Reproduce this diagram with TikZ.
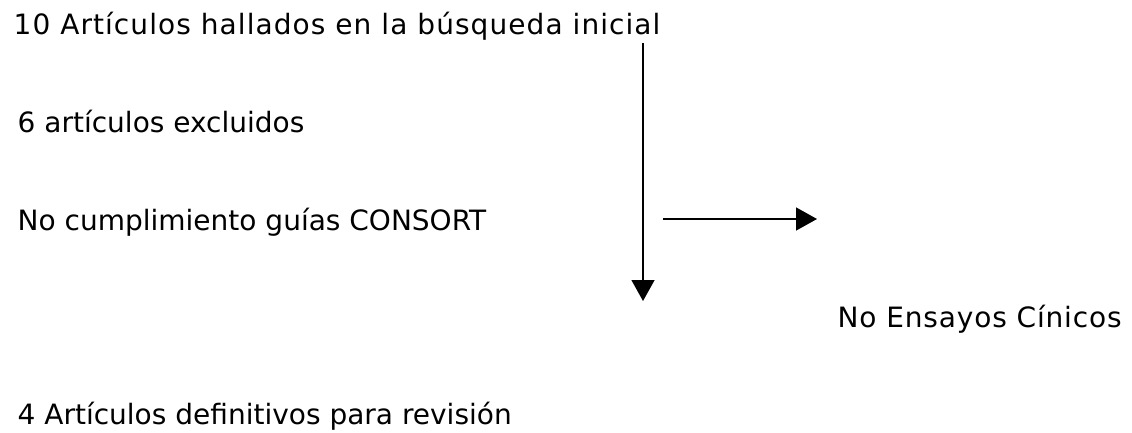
\documentclass[tikz,border=0pt]{standalone}
\usepackage{fontspec}
\setmainfont{DejaVu Sans}
\usetikzlibrary{arrows.meta}

\begin{document}
\begin{tikzpicture}[x=1pt,y=-1pt,
    every node/.style={anchor=base west, inner sep=0pt, font=\fontsize{28}{33}\selectfont},
    spaced/.style={font=\fontsize{28}{33}\selectfont\addfontfeatures{LetterSpace=#1}},
    >={Triangle[width=23pt,length=21pt]}, line width=1.4pt]
        \useasboundingbox (0,0) rectangle (1132,433);

        \node[spaced=3.8] (inicio) at (13,35) {10 Artículos hallados en la búsqueda inicial};
        \node (excl) at (17,132) {6 artículos excluidos};
        \node (consort) at (17,230) {No cumplimiento guías CONSORT};
        \node[spaced=3] (ensayos) at (837,327) {No Ensayos Cínicos};
        \node (final) at (17,424) {4 Artículos definitivos para revisión};

        \coordinate (v1) at (643,43);
        \coordinate (v2) at (643,301);
        \coordinate (h1) at (663,219);
        \coordinate (h2) at (817,219);

        \draw[->] (v1) -- (v2);
        \draw[->] (h1) -- (h2);
    \end{tikzpicture}
\end{document}
